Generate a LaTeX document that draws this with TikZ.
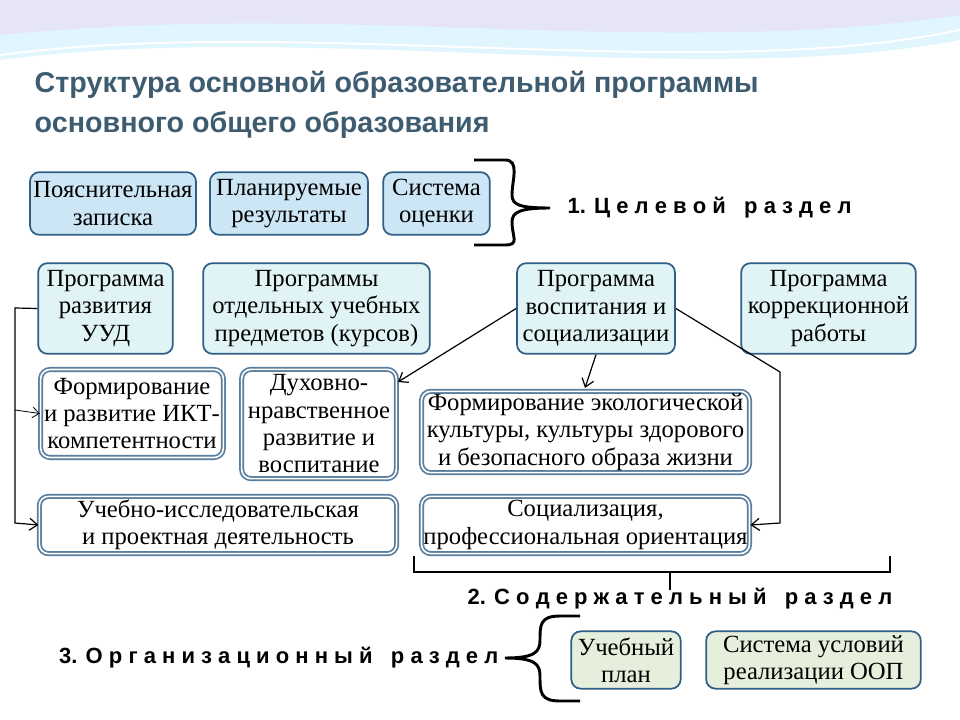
\documentclass[tikz,border=0pt]{standalone}
\usepackage{fontspec}
\setmainfont{Liberation Serif}
\newfontfamily\hdr{Liberation Sans}
\usetikzlibrary{arrows.meta}
\definecolor{boxA}{HTML}{CDE6F5}
\definecolor{boxB}{HTML}{E0F4F6}
\definecolor{boxC}{HTML}{E6EFDB}
\definecolor{edge}{HTML}{2F5E86}
\definecolor{ttl}{HTML}{3E5C70}
\tikzset{
 bx/.style={draw=edge,line width=1.3pt,rounded corners=7pt,align=center,font=\fontsize{18.5}{20.5}\selectfont,inner sep=0pt},
 bxw/.style={bx,fill=white,double=white,double distance=1.2pt,draw=edge!80},
 conn/.style={line width=0.9pt,-{Straight Barb[length=6pt,width=9pt]}},
 lab/.style={font=\hdr\bfseries\fontsize{16.5}{18}\selectfont},
 brc/.style={line width=2.2pt}
}
\begin{document}
\begin{tikzpicture}[x=0.75pt,y=-0.75pt]
\useasboundingbox (0,0) rectangle (960,720);
\fill[white] (0,0) rectangle (960,720);
% top waves
\fill[cyan!12] (0,0) -- (960,0) -- (960,40) .. controls (700,90) and (300,20) .. (0,60) -- cycle;
\fill[cyan!25!blue!10] (0,0) -- (960,0) -- (960,15) .. controls (650,60) and (350,0) .. (0,35) -- cycle;
\draw[white,line width=1.5pt] (0,55) .. controls (300,15) and (700,85) .. (960,30);
\node[anchor=west,text=ttl,font=\hdr\bfseries\fontsize{21.5}{30}\selectfont,align=left] (title) at (30,105) {Структура основной образовательной программы\\основного общего образования};
% row 1
\node[bx,fill=boxA,minimum width=124.5pt,minimum height=47pt] (a1) at (113,203.5) {Пояснительная\\записка};
\node[bx,fill=boxA,minimum width=118.5pt,minimum height=47pt] (a2) at (289,203.5) {Планируемые\\результаты};
\node[bx,fill=boxA,minimum width=80pt,minimum height=47pt] (a3) at (436.5,203.5) {Система\\оценки};
% row 2
\node[bx,fill=boxB,minimum width=101pt,minimum height=68pt] (b1) at (105.5,308.5) {Программа\\развития\\УУД};
\node[bx,fill=boxB,minimum width=170pt,minimum height=68pt] (b2) at (316.5,308.5) {Программы\\отдельных учебных\\предметов (курсов)};
\node[bx,fill=boxB,minimum width=118.5pt,minimum height=68pt] (b3) at (596,308.5) {Программа\\воспитания и\\социализации};
\node[bx,fill=boxB,minimum width=131pt,minimum height=68pt] (b4) at (828.5,308.5) {Программа\\коррекционной\\работы};
% row 3
\node[bxw,minimum width=137pt,minimum height=66pt] (c1) at (132,413.5) {Формирование\\и развитие ИКТ-\\компетентности};
\node[bxw,minimum width=116pt,minimum height=82pt] (c2) at (319,424) {Духовно-\\нравственное\\развитие и\\воспитание};
\node[bxw,minimum width=246pt,minimum height=61pt] (c3) at (585.5,432) {Формирование экологической\\культуры, культуры здорового\\и безопасного образа жизни};
\node[bxw,minimum width=268pt,minimum height=43pt] (d1) at (218,525) {Учебно-исследовательская\\и проектная деятельность};
\node[bxw,minimum width=246pt,minimum height=43pt] (d2) at (585.5,525) {Социализация,\\профессиональная ориентация};
% row 4
\node[bx,fill=boxC,minimum width=82pt,minimum height=43pt] (e1) at (626,660) {Учебный\\план};
\node[bx,fill=boxC,minimum width=161pt,minimum height=43pt] (e2) at (813.5,660) {Система условий\\реализации ООП};
% braces
\draw[brc] (474,160) -- (505,160) .. controls (520,160) and (512,180) .. (512,195) .. controls (512,205) and (520,208) .. (550,208) .. controls (520,208) and (512,212) .. (512,222) .. controls (512,237) and (520,245) .. (505,245) -- (474,245);
\node[lab,anchor=west] (l1) at (563,208) {1. Ц е л е в о й \ \ р а з д е л};
\draw[brc] (414,556) -- (414,572) -- (890,572) -- (890,556);
\draw[brc] (670,572) -- (670,590);
\node[lab] (l2) at (680,599) {2. С о д е р ж а т е л ь н ы й \ \ р а з д е л};
\draw[brc] (580,616) -- (560,616) .. controls (540,616) and (540,625) .. (540,640) .. controls (540,652) and (535,658) .. (505,658) .. controls (535,658) and (540,664) .. (540,676) .. controls (540,692) and (540,701) .. (560,701) -- (580,701);
\node[lab,anchor=east] (l3) at (503,658) {3. О р г а н и з а ц и о н н ы й \ \ р а з д е л};
% connectors
\coordinate (p1) at (15,308);
\coordinate (p2) at (15,523);
\coordinate (p3) at (15,410);
\coordinate (q1) at (780,372);
\coordinate (q2) at (780,523);
\draw[conn] (b1.west) -- (p1) -- (p2) -- (d1.west);
\draw[line width=0.6pt,-{Straight Barb[length=5pt,width=8pt]}] (p3) -- (c1.west);
\draw[conn] (b3.west) -- (398,382);
\draw[conn] (b3.south) -- (585,388);
\draw[conn] (b3.east) -- (q1) -- (q2) -- (d2.east);
\end{tikzpicture}
\end{document}
